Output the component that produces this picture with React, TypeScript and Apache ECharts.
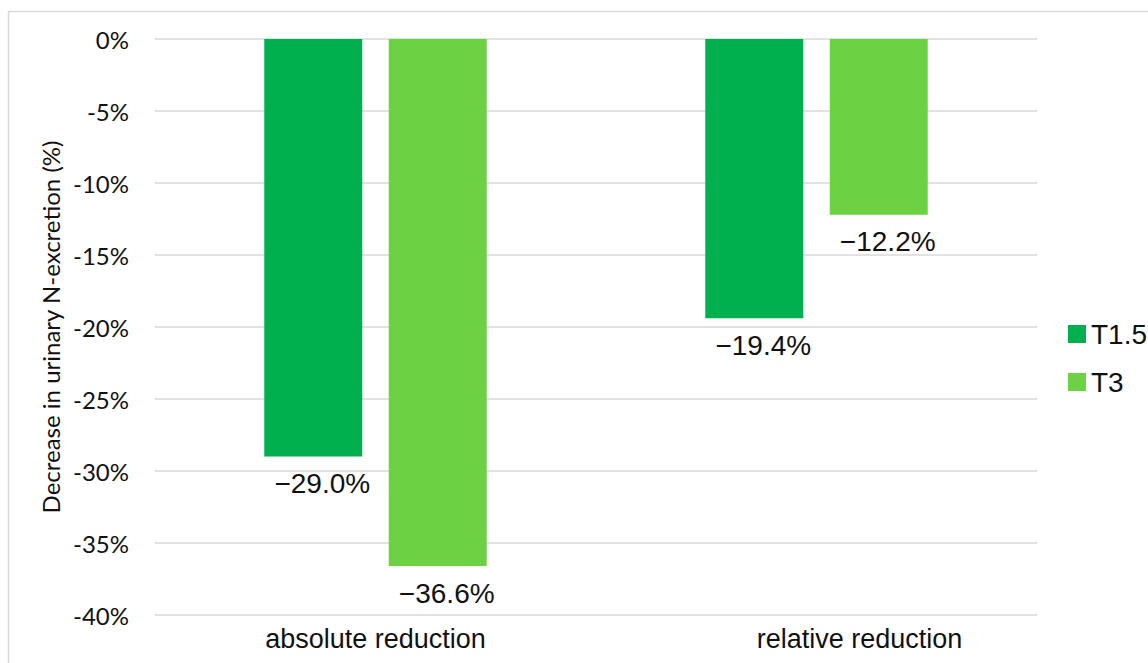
import React, { useEffect, useRef } from "react";
import * as echarts from "echarts";

const categories = ["absolute reduction", "relative reduction"];
const t15 = [-29.0, -19.4];
const t3 = [-36.6, -12.2];
const seriesNames = ["T1.5", "T3"];
const yTicks = { min: -40, max: 0, interval: 5 };

export default function App() {
  const ref = useRef<HTMLDivElement>(null);
  useEffect(() => {
    const chart = echarts.init(ref.current!, null, { renderer: "svg" });
    const sans = "Liberation Sans, Arial, sans-serif";
    const labelCfg = {
      show: true,
      position: "bottom",
      distance: 13,
      offset: [9, 0],
      color: "#111",
      fontFamily: sans,
      fontSize: 28,
      lineHeight: 28,
      formatter: (p: any) => "\u2212" + Math.abs(p.value).toFixed(1) + "%",
    };
    chart.setOption({
      animation: false,
      backgroundColor: "#fff",
      graphic: [
        {
          type: "rect",
          shape: { x: 8.5, y: 11.5, width: 1200, height: 700 },
          style: { fill: "none", stroke: "#d9d9d9", lineWidth: 1.5 },
          silent: true,
        },
      ],
      grid: { left: 155, right: 111, top: 39, bottom: 48 },
      legend: {
        orient: "vertical",
        left: 1068,
        top: 320,
        padding: 0,
        icon: "rect",
        itemWidth: 18,
        itemHeight: 18,
        itemGap: 20,
        textStyle: {
          fontSize: 28,
          lineHeight: 28,
          color: "#111",
          fontFamily: sans,
        },
        data: seriesNames,
      },
      xAxis: {
        type: "category",
        data: categories.map((c, i) =>
          i === 1 ? { value: c, textStyle: { padding: [0, 0, 0, 86] } } : c
        ),
        axisLine: { show: false, onZero: false },
        axisTick: { show: false },
        axisLabel: {
          margin: 10,
          fontSize: 27,
          lineHeight: 27,
          color: "#111",
          fontFamily: sans,
        },
      },
      yAxis: {
        type: "value",
        min: yTicks.min,
        max: yTicks.max,
        interval: yTicks.interval,
        name: "Decrease in urinary N-excretion (%)",
        nameLocation: "middle",
        nameGap: 93,
        nameTextStyle: {
          fontSize: 24,
          color: "#111",
          fontFamily: "Lato, Carlito, sans-serif",
        },
        axisLine: { show: false },
        axisTick: { show: false },
        splitLine: { lineStyle: { color: "#d9d9d9", width: 1.5 } },
        axisLabel: {
          margin: 26,
          fontSize: 24,
          color: "#111",
          fontFamily: "Lato, Carlito, sans-serif",
          formatter: (v: number) => `${v}%`,
        },
      },
      series: [
        {
          name: seriesNames[0],
          type: "bar",
          data: t15,
          barWidth: 98,
          barGap: "27%",
          itemStyle: { color: "#00b04f" },
          label: labelCfg,
        },
        {
          name: seriesNames[1],
          type: "bar",
          data: t3,
          barWidth: 98,
          barGap: "27%",
          itemStyle: { color: "#6cd243" },
          label: labelCfg,
        },
      ],
    });
    return () => chart.dispose();
  }, []);
  return (
    <div
      ref={ref}
      style={{ position: "fixed", left: 0, top: 0, width: 1148, height: 663 }}
    />
  );
}
